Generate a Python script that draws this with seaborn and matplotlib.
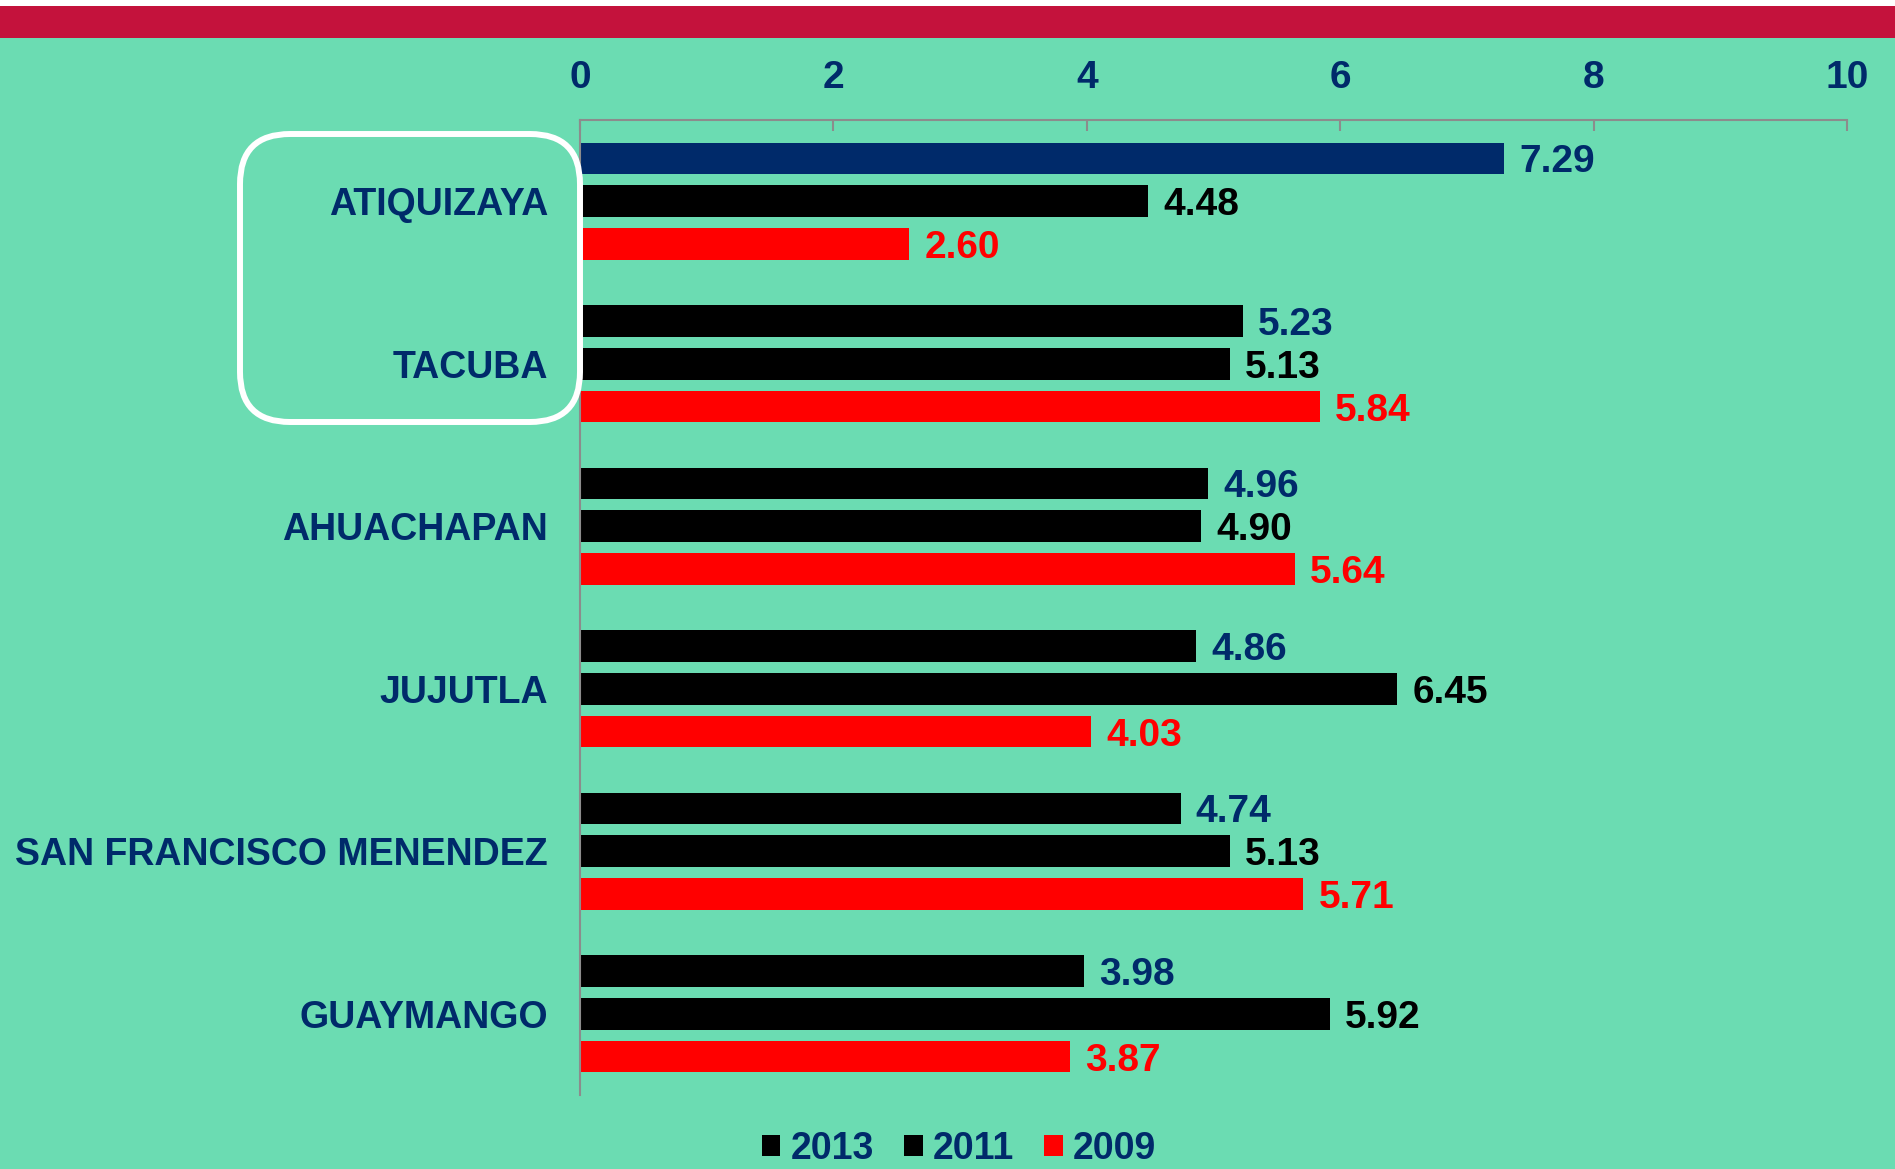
import pandas as pd
import matplotlib.pyplot as plt
import seaborn as sns
from matplotlib.patches import Rectangle, FancyBboxPatch

municipios = ['ATIQUIZAYA', 'TACUBA', 'AHUACHAPAN', 'JUJUTLA',
              'SAN FRANCISCO MENENDEZ', 'GUAYMANGO']
anios = ['2013', '2011', '2009']
v2013 = [7.29, 5.23, 4.96, 4.86, 4.74, 3.98]
v2011 = [4.48, 5.13, 4.90, 6.45, 5.13, 5.92]
v2009 = [2.60, 5.84, 5.64, 4.03, 5.71, 3.87]

df = pd.DataFrame({
    'municipio': municipios * 3,
    'anio': [a for a in anios for _ in municipios],
    'valor': v2013 + v2011 + v2009,
})

fondo = '#6BDCB2'
navy = '#002A6A'
rojo = '#FF0000'
gris = '#8C8C8C'

sns.set_theme(style='white')
plt.rcParams['font.family'] = ['Liberation Sans', 'DejaVu Sans']
plt.rcParams['font.weight'] = 'bold'

fig = plt.figure(figsize=(18.95, 11.69), dpi=100, facecolor=fondo)
ax = fig.add_axes([580 / 1895, 1 - 1095 / 1169, 1267 / 1895, (1095 - 120) / 1169])
ax.set_facecolor('none')

# bandas superiores
fig.patches.append(Rectangle((0, 1 - 6 / 1169), 1, 6 / 1169, transform=fig.transFigure,
                             facecolor='white', edgecolor='none', zorder=0))
fig.patches.append(Rectangle((0, 1 - 38 / 1169), 1, 32 / 1169, transform=fig.transFigure,
                             facecolor='#C4123C', edgecolor='none', zorder=0))

sns.barplot(data=df, y='municipio', x='valor', hue='anio', hue_order=anios,
            palette=['black', 'black', rojo], orient='h', width=0.79, gap=0.26,
            saturation=1, errorbar=None, linewidth=0, ax=ax)

# primera barra destacada
ax.containers[0][0].set_facecolor(navy)

for cont, col in zip(ax.containers, [navy, 'black', rojo]):
    textos = ax.bar_label(cont, fmt='%.2f', padding=11, color=col, fontsize=28,
                          fontweight='bold')
    for t in textos:
        t.set_va('center_baseline')

ax.set_xlim(0, 10)
ax.set_ylim(5.5, -0.5)
ax.set_xticks(range(0, 11, 2))
ax.xaxis.tick_top()
ax.tick_params(axis='x', direction='in', length=8, width=1.5, color=gris,
               labelcolor=navy, labelsize=28, pad=17)
ax.tick_params(axis='y', length=0, labelcolor=navy, labelsize=27, pad=23)
ax.set_xlabel('')
ax.set_ylabel('')
for s in ['right', 'bottom']:
    ax.spines[s].set_visible(False)
for s in ['top', 'left']:
    ax.spines[s].set_color(gris)
    ax.spines[s].set_linewidth(1.5)

# leyenda
handles, labels = ax.get_legend_handles_labels()
ax.get_legend().remove()
fig.legend(handles, labels, loc='lower center', bbox_to_anchor=(0.506, -0.014), ncol=3,
           frameon=False, fontsize=27, labelcolor=navy, handlelength=0.5, handleheight=0.5,
           handletextpad=0.27, columnspacing=0.8, borderpad=0)

# recuadro redondeado
fig.patches.append(FancyBboxPatch((2.40, 7.47), 3.40, 2.88,
                                  boxstyle='round,pad=0,rounding_size=0.5',
                                  transform=fig.dpi_scale_trans, facecolor='none',
                                  edgecolor='white', linewidth=4.3, zorder=5))

fig.savefig('out.png', dpi=100, facecolor=fondo)
